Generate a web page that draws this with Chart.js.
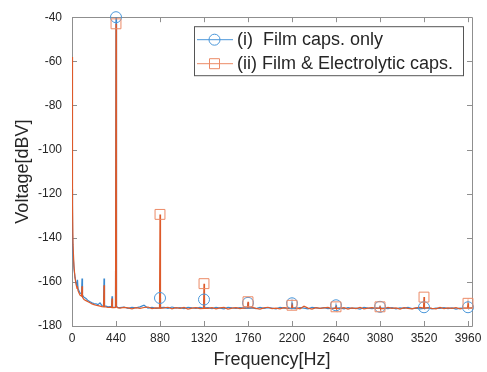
<!DOCTYPE html>
<html>
<head>
<meta charset="utf-8">
<script src="https://cdn.jsdelivr.net/npm/chart.js@4.4.1/dist/chart.umd.min.js"></script>
<style>
  html, body { margin: 0; padding: 0; background: #fff; }
  #wrap { position: relative; width: 487px; height: 372px; }
</style>
</head>
<body>
<div id="wrap"><canvas id="graph"></canvas></div>
<script>
// spectrum samples (Hz) shared by both measurements
const freqHz = [
  0, 5, 10, 20, 30, 40, 50, 55, 60, 70,
  80, 95, 100, 105, 120, 140, 160, 180, 200, 220,
  240, 260, 280, 300, 315, 320, 325, 340, 360, 380,
  395, 400, 405, 420, 435, 440, 445, 460,
  480, 520, 560, 600, 640, 680, 720, 760, 800, 840,
  875, 880, 885,
  920, 960, 1000, 1040, 1080, 1120, 1160, 1200, 1240, 1280,
  1315, 1320, 1325,
  1360, 1400, 1440, 1480, 1520, 1560, 1600, 1640, 1680, 1720,
  1755, 1760, 1765,
  1800, 1840, 1880, 1920, 1960, 2000, 2040, 2080, 2120, 2160,
  2195, 2200, 2205,
  2240, 2280, 2320, 2360, 2400, 2440, 2480, 2520, 2560, 2600,
  2635, 2640, 2645,
  2680, 2720, 2760, 2800, 2840, 2880, 2920, 2960, 3000, 3040,
  3075, 3080, 3085,
  3120, 3160, 3200, 3240, 3280, 3320, 3360, 3400, 3440, 3480,
  3515, 3520, 3525,
  3560, 3600, 3640, 3680, 3720, 3760, 3800, 3840, 3880, 3920,
  3955, 3960, 3965,
  4000,
]

// (i) film caps only, dBV
const filmOnlyDbv = [
  -118, -138, -147, -154, -158, -160, -162, -159, -163, -164,
  -165, -165.5, -158.5, -166, -167, -167.5, -168.5, -169, -169.5, -169.8,
  -170, -170.3, -169.5, -170.8, -171, -158.5, -171, -171, -171.3, -171.2,
  -171.3, -166.5, -171.4, -171.5, -171.5, -40, -171.2, -171.6,
  -171.7, -171.4, -172.0, -171.5, -171.8, -171.3, -170.6, -171.9, -171.6, -172.0,
  -171.8, -167.3, -171.7,
  -171.6, -172.0, -171.4, -171.9, -171.7, -172.1, -171.5, -171.8, -172.0, -171.6,
  -171.9, -168.0, -171.8,
  -171.7, -172.1, -171.6, -171.9, -172.2, -171.5, -171.8, -172.0, -171.7, -171.9,
  -172.0, -169.5, -171.9,
  -171.8, -172.1, -171.6, -172.0, -171.7, -171.9, -172.2, -171.6, -171.9, -172.0,
  -171.9, -169.7, -172.0,
  -172.1, -171.7, -171.9, -172.2, -171.6, -171.8, -172.0, -171.7, -172.1, -171.9,
  -172.0, -170.6, -171.9,
  -171.8, -172.2, -171.7, -172.0, -171.9, -172.3, -171.6, -171.9, -172.1, -171.8,
  -172.0, -171.3, -171.9,
  -171.9, -172.1, -171.7, -172.2, -171.8, -172.0, -171.6, -172.1, -171.9, -172.2,
  -172.0, -171.5, -171.9,
  -171.8, -172.2, -171.9, -172.0, -171.7, -172.1, -171.8, -172.3, -171.9, -172.0,
  -172.0, -171.5, -171.9,
  -171.9,
]

// (ii) film & electrolytic caps, dBV
const filmElecDbv = [
  -58, -125, -143, -153, -158, -161, -163, -162, -164, -165,
  -166, -166.5, -162, -167, -168, -168.5, -169, -169.5, -170, -170.3,
  -170.6, -170.8, -171, -171.2, -171.3, -161.5, -171.3, -171.4, -171.6, -171.5,
  -171.6, -167.5, -171.6, -171.7, -171.6, -43, -171.4, -171.8,
  -171.9, -171.6, -171.8, -172.2, -171.7, -172.0, -171.6, -171.4, -172.1, -171.8,
  -171.9, -129.4, -172.0,
  -171.8, -171.5, -172.2, -171.7, -172.0, -171.6, -172.3, -171.9, -171.7, -172.1,
  -172.0, -160.8, -171.9,
  -172.0, -171.7, -172.2, -171.8, -171.6, -172.3, -171.9, -171.7, -172.1, -171.8,
  -171.9, -169.0, -172.0,
  -171.6, -172.0, -172.3, -171.8, -171.5, -172.1, -171.9, -172.2, -171.7, -171.9,
  -172.1, -170.6, -171.8,
  -171.8, -172.2, -171.0, -171.9, -172.3, -171.7, -172.0, -171.8, -171.6, -172.2,
  -171.8, -171.3, -172.1,
  -172.0, -171.7, -172.3, -171.8, -172.1, -171.6, -172.2, -171.9, -171.7, -172.0,
  -171.8, -171.3, -172.1,
  -172.1, -171.6, -172.0, -171.8, -172.3, -171.7, -172.0, -172.2, -171.8, -171.6,
  -171.9, -166.9, -172.0,
  -171.7, -172.0, -172.2, -171.6, -172.1, -171.8, -172.0, -171.7, -172.2, -171.9,
  -171.8, -169.7, -172.0,
  -171.8,
]

// marker positions at the 440 Hz harmonics
const harmonicHz = [440, 880, 1320, 1760, 2200, 2640, 3080, 3520, 3960]
const filmOnlyPeaks = [-40, -167.3, -168, -169.5, -169.7, -170.6, -171.3, -171.5, -171.5]
const filmElecPeaks = [-43, -129.4, -160.8, -169, -170.6, -171.3, -171.3, -166.9, -169.7]

const xTickHz = [0, 440, 880, 1320, 1760, 2200, 2640, 3080, 3520, 3960]
const yTickDbv = [-180, -160, -140, -120, -100, -80, -60, -40]

const seriesLabels = ['(i)  Film caps. only', '(ii) Film & Electrolytic caps.']

const COLOURS = Object.freeze({
  blueLine: '#3b89cf',
  blueMark: '#4a97da',
  orangeLine: '#dd5a2a',
  orangeMark: '#ec8a66',
  axis: '#8f8f8f',
  text: '#262626',
})

const FONT = '"Liberation Sans", Arial, Helvetica, sans-serif'

const toPoints = (xs, ys) => xs.map((x, i) => ({ x: x, y: ys[i] }))

// MATLAB style box with inward tick marks
const frame = {
  id: 'frame',
  beforeDatasetsDraw(chart) {
    const { ctx, chartArea: a, scales } = chart
    const len = 5
    ctx.save()
    ctx.strokeStyle = COLOURS.axis
    ctx.lineWidth = 1
    ctx.beginPath()
    ctx.rect(Math.round(a.left) + 0.5, Math.round(a.top) + 0.5,
      Math.round(a.right - a.left), Math.round(a.bottom - a.top))
    for (const v of xTickHz) {
      const px = Math.round(scales.x.getPixelForValue(v)) + 0.5
      ctx.moveTo(px, a.bottom); ctx.lineTo(px, a.bottom - len)
      ctx.moveTo(px, a.top); ctx.lineTo(px, a.top + len)
    }
    for (const v of yTickDbv) {
      const py = Math.round(scales.y.getPixelForValue(v)) + 0.5
      ctx.moveTo(a.left, py); ctx.lineTo(a.left + len, py)
      ctx.moveTo(a.right, py); ctx.lineTo(a.right - len, py)
    }
    ctx.stroke()
    ctx.restore()
  },
}

// legend box drawn like the MATLAB one (line with marker in the middle)
const legendBox = {
  id: 'legendBox',
  afterDraw(chart) {
    const { ctx, chartArea: a } = chart
    const x = a.right - 278, y = a.top + 9, w = 269, h = 49
    ctx.save()
    ctx.fillStyle = '#fff'
    ctx.fillRect(x, y, w, h)
    ctx.strokeStyle = '#555'
    ctx.lineWidth = 1
    ctx.strokeRect(x + 0.5, y + 0.5, w, h)

    const rows = [
      { line: COLOURS.blueLine, mark: COLOURS.blueMark, style: 'circle' },
      { line: COLOURS.orangeLine, mark: COLOURS.orangeMark, style: 'rect' },
    ]
    ctx.font = '18px ' + FONT
    ctx.textBaseline = 'middle'
    rows.forEach((r, i) => {
      const cy = y + 13 + i * 24
      ctx.strokeStyle = r.mark
      ctx.beginPath()
      ctx.moveTo(x + 3, cy + 0.5); ctx.lineTo(x + 39, cy + 0.5)
      ctx.stroke()
      ctx.beginPath()
      if (r.style === 'circle') ctx.arc(x + 20.5, cy + 0.5, 5.5, 0, Math.PI * 2)
      else ctx.rect(x + 15.5, cy - 4.5, 10, 10)
      ctx.stroke()
      ctx.fillStyle = COLOURS.text
      ctx.fillText(seriesLabels[i], x + 43, cy + 1)
    })
    ctx.restore()
  },
}

const ctx = document.getElementById('graph').getContext('2d')

let graph = new Chart(ctx, {
  type: 'line',
  data: {
    datasets: [
      {
        label: seriesLabels[0],
        data: toPoints(freqHz, filmOnlyDbv),
        borderColor: COLOURS.blueLine,
        borderWidth: 1.2,
        pointRadius: 0,
        tension: 0,
        order: 4,
      },
      {
        label: seriesLabels[1],
        data: toPoints(freqHz, filmElecDbv),
        borderColor: COLOURS.orangeLine,
        borderWidth: 1.2,
        pointRadius: 0,
        tension: 0,
        order: 3,
      },
      {
        label: 'peaks i',
        data: toPoints(harmonicHz, filmOnlyPeaks),
        showLine: false,
        pointStyle: 'circle',
        pointRadius: 5.5,
        borderWidth: 1,
        borderColor: COLOURS.blueMark,
        backgroundColor: 'transparent',
        clip: false,
        order: 2,
      },
      {
        label: 'peaks ii',
        data: toPoints(harmonicHz, filmElecPeaks),
        showLine: false,
        pointStyle: 'rect',
        pointRadius: 7,
        borderWidth: 1,
        borderColor: COLOURS.orangeMark,
        backgroundColor: 'transparent',
        clip: false,
        order: 1,
      },
    ],
  },
  options: {
    responsive: true,
    maintainAspectRatio: false,
    animation: false,
    devicePixelRatio: 1,
    layout: { padding: { top: 13, right: 15, left: 0, bottom: 0 } },
    plugins: { legend: { display: false }, tooltip: { enabled: false } },
    scales: {
      x: {
        type: 'linear',
        min: 0,
        max: 4000,
        grid: { display: false, drawTicks: false },
        border: { display: false },
        afterBuildTicks: (s) => { s.ticks = xTickHz.map(v => ({ value: v })) },
        afterFit: (s) => { s.height = 46 },
        ticks: {
          autoSkip: false,
          maxRotation: 0,
          padding: 5,
          color: COLOURS.text,
          font: { family: FONT, size: 12 },
          callback: (v) => String(v),
        },
        title: {
          display: true,
          text: 'Frequency[Hz]',
          color: COLOURS.text,
          font: { family: FONT, size: 18 },
          padding: { top: 0, bottom: 1 },
        },
      },
      y: {
        min: -180,
        max: -40,
        grid: { display: false, drawTicks: false },
        border: { display: false },
        afterBuildTicks: (s) => { s.ticks = yTickDbv.map(v => ({ value: v })) },
        afterFit: (s) => { s.width = 72 },
        ticks: {
          padding: 10,
          color: COLOURS.text,
          font: { family: FONT, size: 12 },
          callback: (v) => String(v),
        },
        title: {
          display: true,
          text: 'Voltage[dBV]',
          color: COLOURS.text,
          font: { family: FONT, size: 18 },
          padding: { top: 12, bottom: 0 },
        },
      },
    },
  },
  plugins: [frame, legendBox],
})
</script>
</body>
</html>
